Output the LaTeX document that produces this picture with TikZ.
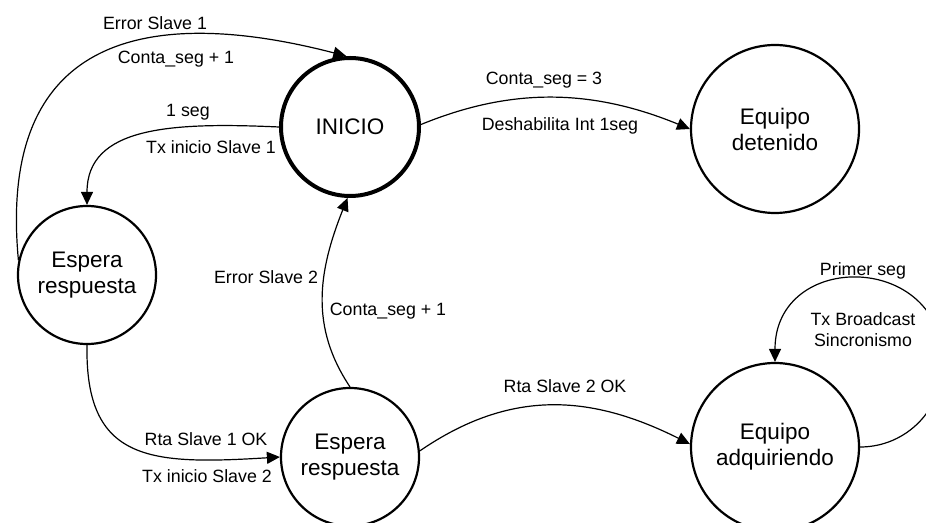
\documentclass[tikz,border=0pt]{standalone}
\usepackage{fontspec}
\setmainfont{Liberation Sans}
\usetikzlibrary{arrows.meta}

\tikzset{
	estado/.style={draw, circle, line width=2.2pt, inner sep=0pt, align=center, font=\fontsize{22.5}{26}\selectfont},
	trans/.style={line width=1.2pt, -{Triangle[length=13pt,width=12pt]}},
	etiq/.style={align=center, font=\fontsize{17.8}{21}\selectfont}
}

\begin{document}
\begin{tikzpicture}[x=1pt, y=1pt]
	\useasboundingbox (0,0) rectangle (926,522);
	\clip (0,0) rectangle (926,522);
	
	\coordinate (I) at (350,395);
	\coordinate (D) at (775,393);
	\coordinate (R1) at (87,247);
	\coordinate (R2) at (350,65);
	\coordinate (A) at (775,75);
	
	%Drawing states
	\node[estado, minimum size=138pt, line width=4pt] (inicio) at (I) {INICIO};
	\node[estado, minimum size=168pt] (detenido) at (D) {Equipo\\detenido};
	\node[estado, minimum size=138pt] (espera1) at (R1) {Espera\\respuesta};
	\node[estado, minimum size=138pt] (espera2) at (R2) {Espera\\respuesta};
	\node[estado, minimum size=168pt] (adquiriendo) at (A) {Equipo\\adquiriendo};
	
	%Drawing transitions
	\draw[trans] (espera1.168) .. controls (-5,509) and (180,509) .. (inicio.93);
	\draw[trans] (inicio.180) .. controls (170,400) and (87,395) .. (espera1.north);
	\draw[trans] (inicio.2) .. controls (510,434) and (590,434) .. (detenido.180);
	\draw[trans] (espera1.south) .. controls (85,60) and (150,57) .. (espera2.180);
	\draw[trans] (espera2.north) .. controls (310,195) and (318,250) .. (inicio.268);
	\draw[trans] (espera2.5) .. controls (510,133) and (590,128) .. (adquiriendo.178);
	
	%self loop
	\coordinate (lazo) at (943,159);
	\draw[trans] (adquiriendo.east) to[out=0,in=-90] (lazo) to[out=90,in=90,looseness=1.7] (adquiriendo.north);
	
	%Drawing labels
	\node[etiq] (l1) at (155,499) {Error Slave 1};
	\node[etiq] (l2) at (176,463) {Conta\_seg + 1};
	\node[etiq] (l3) at (188,410) {1 seg};
	\node[etiq] (l4) at (211,375) {Tx inicio Slave 1};
	\node[etiq] (l5) at (544,442) {Conta\_seg = 3};
	\node[etiq] (l6) at (560,396) {Deshabilita Int 1seg};
	\node[etiq] (l7) at (206,83) {Rta Slave 1 OK};
	\node[etiq] (l8) at (207,46) {Tx inicio Slave 2};
	\node[etiq] (l9) at (266,245) {Error Slave 2};
	\node[etiq] (l10) at (388,211) {Conta\_seg + 1};
	\node[etiq] (l11) at (565,136) {Rta Slave 2 OK};
	\node[etiq] (l12) at (863,251) {Primer seg};
	\node[etiq] (l13) at (863,192) {Tx Broadcast\\Sincronismo};
	
\end{tikzpicture}
\end{document}
